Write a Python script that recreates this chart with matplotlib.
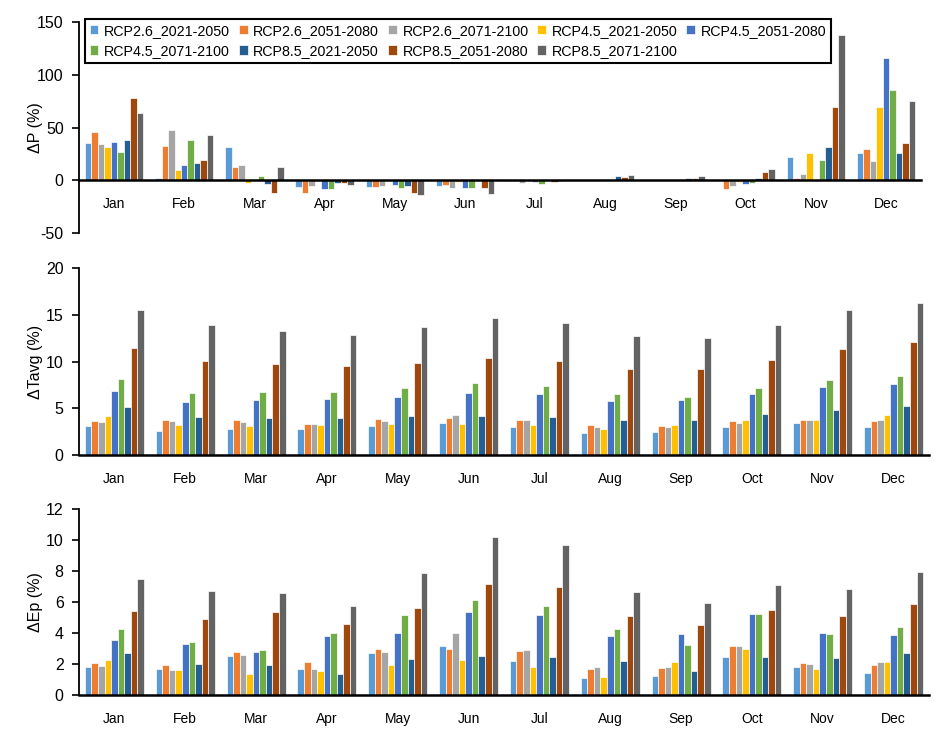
import matplotlib
matplotlib.use("Agg")
import matplotlib.pyplot as plt
import numpy as np

plt.rcParams['font.family'] = ['Liberation Sans', 'DejaVu Sans']
plt.rcParams['axes.unicode_minus'] = False

months = ["Jan", "Feb", "Mar", "Apr", "May", "Jun", "Jul", "Aug", "Sep", "Oct", "Nov", "Dec"]
series_names = ["RCP2.6_2021-2050", "RCP2.6_2051-2080", "RCP2.6_2071-2100",
                "RCP4.5_2021-2050", "RCP4.5_2051-2080", "RCP4.5_2071-2100",
                "RCP8.5_2021-2050", "RCP8.5_2051-2080", "RCP8.5_2071-2100"]
colors = ["#5B9BD5", "#ED7D31", "#A5A5A5", "#FFC000", "#4472C4",
          "#70AD47", "#255E91", "#9E480E", "#636363"]

# Delta P (%)
p_rcp26_2021 = [35, 2.5, 31.8, -6, -6.3, -5, -0.8, 0.5, 0, 0, 21.7, 26]
p_rcp26_2051 = [45.5, 32.5, 12.7, -12, -6, -4.5, -0.5, 0.3, 0, -8.7, 2.5, 30]
p_rcp26_2071 = [34.4, 47.5, 14, -5.5, -5.1, -7, -2.8, 0.3, 0, -5.3, 6, 17.8]
p_rcp45_2021 = [31.5, 9.9, -3, -1, -1, -2, 0, 0.6, 0, -2, 25.5, 69.7]
p_rcp45_2051 = [36.3, 14.6, 1, -8.7, -4.1, -7, -1.8, 1.6, 0.3, -4, -1, 115.6]
p_rcp45_2071 = [26.8, 37.9, 3.8, -8.3, -7, -7, -4, 0, 1.5, -2.2, 18.8, 86]
p_rcp85_2021 = [37.9, 16.2, -3.5, -2.3, -5.4, -0.5, 0, 3.9, 1.7, 2, 31.8, 26]
p_rcp85_2051 = [77.7, 19.4, -12, -3, -12, -7, -1.2, 2.8, 2.2, 7.4, 69.7, 35]
p_rcp85_2071 = [63.7, 43, 12.4, -4.7, -14, -13, -1, 4.6, 4, 10.7, 138, 74.8]

# Delta Tavg (%)
t_rcp26_2021 = [3.08, 2.59, 2.76, 2.73, 3.15, 3.39, 3.04, 2.39, 2.46, 2.96, 3.46, 3.0]
t_rcp26_2051 = [3.67, 3.78, 3.7, 3.29, 3.81, 3.95, 3.79, 3.18, 3.11, 3.64, 3.71, 3.64]
t_rcp26_2071 = [3.53, 3.6, 3.53, 3.29, 3.67, 4.23, 3.71, 3.04, 3.04, 3.46, 3.71, 3.71]
t_rcp45_2021 = [4.13, 3.25, 3.15, 3.22, 3.29, 3.29, 3.21, 2.82, 3.21, 3.71, 3.71, 4.25]
t_rcp45_2051 = [6.86, 5.7, 5.87, 5.94, 6.15, 6.68, 6.5, 5.82, 5.93, 6.5, 7.25, 7.57]
t_rcp45_2071 = [8.14, 6.68, 6.75, 6.75, 7.2, 7.68, 7.39, 6.57, 6.25, 7.21, 8.0, 8.43]
t_rcp85_2021 = [5.17, 4.09, 3.99, 3.99, 4.2, 4.13, 4.1, 3.79, 3.71, 4.43, 4.79, 5.21]
t_rcp85_2051 = [11.46, 10.1, 9.7, 9.54, 9.82, 10.36, 10.1, 9.21, 9.21, 10.14, 11.29, 12.04]
t_rcp85_2071 = [15.5, 13.86, 13.25, 12.86, 13.64, 14.64, 14.07, 12.68, 12.54, 13.86, 15.5, 16.29]

# Delta Ep (%)
e_rcp26_2021 = [1.78, 1.68, 2.49, 1.68, 2.69, 3.18, 2.19, 1.08, 1.25, 2.45, 1.83, 1.44]
e_rcp26_2051 = [2.04, 1.91, 2.77, 2.13, 2.99, 2.99, 2.82, 1.7, 1.74, 3.14, 2.09, 1.94]
e_rcp26_2071 = [1.89, 1.61, 2.56, 1.68, 2.8, 4.02, 2.9, 1.78, 1.78, 3.18, 2.0, 2.13]
e_rcp45_2021 = [2.28, 1.63, 1.35, 1.57, 1.96, 2.24, 1.81, 1.16, 2.13, 2.97, 1.68, 2.13]
e_rcp45_2051 = [3.57, 3.29, 2.77, 3.81, 4.02, 5.33, 5.16, 3.83, 3.91, 5.23, 4.02, 3.87]
e_rcp45_2071 = [4.26, 3.42, 2.9, 3.98, 5.16, 6.1, 5.72, 4.28, 3.23, 5.2, 3.94, 4.37]
e_rcp85_2021 = [2.69, 2.0, 1.91, 1.33, 2.32, 2.49, 2.43, 2.17, 1.55, 2.45, 2.37, 2.69]
e_rcp85_2051 = [5.4, 4.92, 5.35, 4.58, 5.63, 7.16, 6.97, 5.08, 4.52, 5.46, 5.12, 5.85]
e_rcp85_2071 = [7.5, 6.71, 6.6, 5.76, 7.85, 10.2, 9.66, 6.67, 5.96, 7.12, 6.82, 7.91]

p_series = [p_rcp26_2021, p_rcp26_2051, p_rcp26_2071, p_rcp45_2021, p_rcp45_2051,
            p_rcp45_2071, p_rcp85_2021, p_rcp85_2051, p_rcp85_2071]
t_series = [t_rcp26_2021, t_rcp26_2051, t_rcp26_2071, t_rcp45_2021, t_rcp45_2051,
            t_rcp45_2071, t_rcp85_2021, t_rcp85_2051, t_rcp85_2071]
e_series = [e_rcp26_2021, e_rcp26_2051, e_rcp26_2071, e_rcp45_2021, e_rcp45_2051,
            e_rcp45_2071, e_rcp85_2021, e_rcp85_2051, e_rcp85_2071]

W, H = 947, 735
fig = plt.figure(figsize=(W / 100, H / 100), dpi=100)
FS = 11.5
LFS = 10.3

def make_ax(x0, x1, ytop, ybot):
    return fig.add_axes([x0 / W, 1 - ybot / H, (x1 - x0) / W, (ybot - ytop) / H])

ax1 = make_ax(79, 921, 22, 233)
ax2 = make_ax(79, 929, 268, 455)
ax3 = make_ax(79, 929, 509, 695)

x = np.arange(len(months))
slot = 0.0925
panels = [
    (ax1, p_series, (-50, 150), [-50, 0, 50, 100, 150], "ΔP (%)"),
    (ax2, t_series, (0, 20), [0, 5, 10, 15, 20], "ΔTavg (%)"),
    (ax3, e_series, (0, 12), [0, 2, 4, 6, 8, 10, 12], "ΔEp (%)"),
]
handles = []
for ax, series, ylim, yticks, ylabel in panels:
    hs = []
    for j, vals in enumerate(series):
        b = ax.bar(x + (j - 4) * slot, vals, width=slot, color=colors[j],
                   edgecolor='white', linewidth=0.5, label=series_names[j], zorder=2)
        hs.append(b)
    if not handles:
        handles = hs
    ax.set_xlim(-0.5, 11.5)
    ax.set_ylim(*ylim)
    ax.set_yticks(yticks)
    ax.set_xticks(x)
    ax.set_xticklabels(months, fontsize=FS)
    ax.tick_params(axis='x', length=0, pad=12)
    ax.tick_params(axis='y', length=5, width=1.2, direction='out', pad=6, labelsize=FS)
    for s in ['top', 'right']:
        ax.spines[s].set_visible(False)
    ax.spines['left'].set_linewidth(1.3)
    ax.spines['bottom'].set_linewidth(1.8)
    ax.spines['bottom'].set_position(('data', 0))
    ax.spines['bottom'].set_zorder(3)
    bb = ax.get_position()
    fig.text(35 / W, bb.y0 + bb.height / 2, ylabel, rotation=90, ha='center',
             va='center', fontsize=FS)

order = [0, 5, 1, 6, 2, 7, 3, 8, 4]
leg = ax1.legend([handles[i] for i in order], [series_names[i] for i in order],
                 ncol=5, loc='upper left', bbox_to_anchor=(85 / W, 1 - 19 / H),
                 bbox_transform=fig.transFigure, fontsize=LFS, frameon=True,
                 fancybox=False, edgecolor='black', framealpha=1, handlelength=0.62,
                 handleheight=0.62, handletextpad=0.4, columnspacing=0.6,
                 labelspacing=0.45, borderpad=0.32, borderaxespad=0)
leg.get_frame().set_linewidth(1.5)
leg.set_zorder(10)

fig.savefig("out.png", dpi=100)
